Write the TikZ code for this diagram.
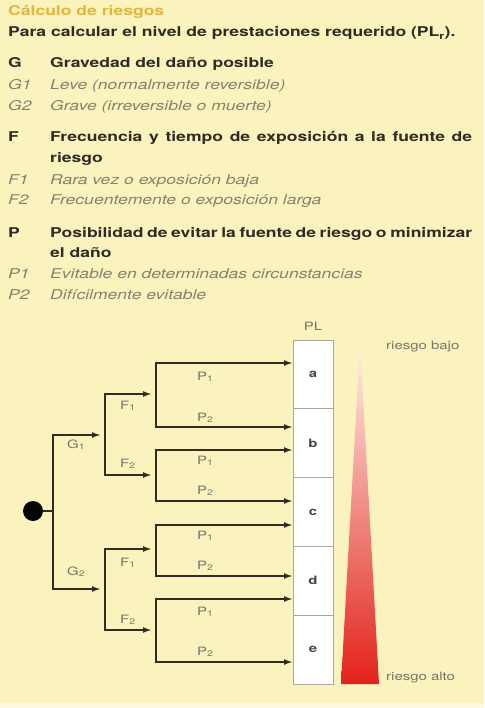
\documentclass[tikz,border=0pt]{standalone}
\usepackage{fontspec}
\setmainfont{TeX Gyre Heros}[FakeStretch=1.3]
\usetikzlibrary{arrows.meta}
\definecolor{bg}{HTML}{FBF3BE}
\definecolor{bgfoot}{HTML}{FDF8DE}
\definecolor{ink}{HTML}{2E2B24}
\definecolor{soft}{HTML}{86816F}
\definecolor{lab}{HTML}{77746A}
\definecolor{gold}{HTML}{E4B53A}
\definecolor{wire}{HTML}{342C22}
\definecolor{cellline}{HTML}{A9A79C}
\definecolor{celltext}{HTML}{4A4840}
\definecolor{redtop}{HTML}{FDF1EA}
\definecolor{redmid}{HTML}{EF9D7C}
\definecolor{redbot}{HTML}{E2221A}
\tikzset{
  head/.style={anchor=base west, inner sep=0pt, text=ink, font=\fontsize{13.5}{16}\selectfont\bfseries},
  sub/.style={anchor=base west, inner sep=0pt, text=soft, font=\fontsize{13.5}{16}\selectfont\itshape},
  ttl/.style={anchor=base west, inner sep=0pt, text=gold, font=\fontsize{13.5}{16}\selectfont\bfseries},
  lbl/.style={anchor=base west, inner sep=0pt, text=lab, font=\fontsize{11.5}{14}\selectfont},
  wirel/.style={draw=wire, line width=1.8pt},
  arr/.style={wirel, -{Latex[length=9pt,width=6pt]}},
  cell/.style={draw=cellline, line width=0.9pt, fill=white, minimum width=40pt, minimum height=68.8pt, inner sep=0pt, text=celltext, font=\fontsize{11.5}{14}\selectfont\bfseries},
}
\begin{document}
\begin{tikzpicture}[x=1pt,y=-1pt]
\fill[bg] (0,0) rectangle (484,703);
\fill[bgfoot] (0,703) rectangle (484,708);
\useasboundingbox (0,0) rectangle (484,708);
% heading text
\node[ttl] (t0) at (8,16) {Cálculo de riesgos};
\node[head] (t1) at (8,37) {Para calcular el nivel de prestaciones requerido (PL\textsubscript{r}).};
\node[head] (gk) at (8,68) {G};
\node[head] (gt) at (50,68) {Gravedad del daño posible};
\node[sub] (g1k) at (8,90) {G1};
\node[sub] (g1t) at (50,90) {Leve (normalmente reversible)};
\node[sub] (g2k) at (8,111) {G2};
\node[sub] (g2t) at (50,111) {Grave (irreversible o muerte)};
\node[head] (fk) at (8,142) {F};
\node[head] (ft) at (50,142) {\makebox[422pt][s]{Frecuencia y tiempo de exposición a la fuente de}};
\node[head] (ft2) at (50,163) {riesgo};
\node[sub] (f1k) at (8,185) {F1};
\node[sub] (f1t) at (50,185) {Rara vez o exposición baja};
\node[sub] (f2k) at (8,205) {F2};
\node[sub] (f2t) at (50,205) {Frecuentemente o exposición larga};
\node[head] (pk) at (8,237) {P};
\node[head] (pt) at (50,237) {\makebox[422pt][s]{Posibilidad de evitar la fuente de riesgo o minimizar}};
\node[head] (pt2) at (50,258) {el daño};
\node[sub] (p1k) at (8,278) {P1};
\node[sub] (p1t) at (50,278) {Evitable en determinadas circunstancias};
\node[sub] (p2k) at (8,299) {P2};
\node[sub] (p2t) at (50,299) {Difícilmente evitable};
% PL column
\node[lbl, anchor=base] (pl) at (313,330) {PL};
\node[cell] (a) at (313,374.4) {a};
\node[cell] (b) at (313,443.2) {b};
\node[cell] (c) at (313,512.0) {c};
\node[cell] (d) at (313,580.8) {d};
\node[cell] (e) at (313,649.6) {e};
% risk wedge
\shade[top color=redtop, middle color=redmid, bottom color=redbot] (360,343) -- (379,684) -- (341,684) -- cycle;
\node[lbl] (rb) at (386,349) {riesgo bajo};
\node[lbl] (ra) at (386,680) {riesgo alto};
% tree
\node[circle, fill=black!90!wire, minimum size=20pt, inner sep=0pt] (root) at (33,511) {};
\coordinate (jG) at (53,511);
\coordinate (jG1) at (105,435);
\coordinate (jG2) at (105,589);
\coordinate (jF11) at (156,394);
\coordinate (jF12) at (156,475);
\coordinate (jF21) at (156,549);
\coordinate (jF22) at (156,630);
\coordinate (e1) at (293,363);
\coordinate (e2) at (293,427);
\coordinate (e3) at (293,450);
\coordinate (e4) at (293,501);
\coordinate (e5) at (293,525);
\coordinate (e6) at (293,576);
\coordinate (e7) at (293,599);
\coordinate (e8) at (293,662);
\draw[wirel] (root) -- (jG);
\draw[arr, shorten >=4pt] (jG) |- (jG1);
\draw[arr, shorten >=4pt] (jG) |- (jG2);
\draw[arr, shorten >=4pt] (jG1) |- (jF11);
\draw[arr, shorten >=4pt] (jG1) |- (jF12);
\draw[arr, shorten >=4pt] (jG2) |- (jF21);
\draw[arr, shorten >=4pt] (jG2) |- (jF22);
\draw[arr] (jF11) |- (e1);
\draw[arr] (jF11) |- (e2);
\draw[arr] (jF12) |- (e3);
\draw[arr] (jF12) |- (e4);
\draw[arr] (jF21) |- (e5);
\draw[arr] (jF21) |- (e6);
\draw[arr] (jF22) |- (e7);
\draw[arr] (jF22) |- (e8);
% branch labels
\node[lbl] (lG1) at (67,448) {G\textsubscript{1}};
\node[lbl] (lG2) at (67,575) {G\textsubscript{2}};
\node[lbl] (lF11) at (120,409) {F\textsubscript{1}};
\node[lbl] (lF12) at (120,467) {F\textsubscript{2}};
\node[lbl] (lF21) at (120,566) {F\textsubscript{1}};
\node[lbl] (lF22) at (120,623) {F\textsubscript{2}};
\node[lbl] (lP1) at (197,380) {P\textsubscript{1}};
\node[lbl] (lP2) at (197,421) {P\textsubscript{2}};
\node[lbl] (lP3) at (197,464) {P\textsubscript{1}};
\node[lbl] (lP4) at (197,494) {P\textsubscript{2}};
\node[lbl] (lP5) at (197,539) {P\textsubscript{1}};
\node[lbl] (lP6) at (197,569) {P\textsubscript{2}};
\node[lbl] (lP7) at (197,615) {P\textsubscript{1}};
\node[lbl] (lP8) at (197,655) {P\textsubscript{2}};
\end{tikzpicture}
\end{document}
